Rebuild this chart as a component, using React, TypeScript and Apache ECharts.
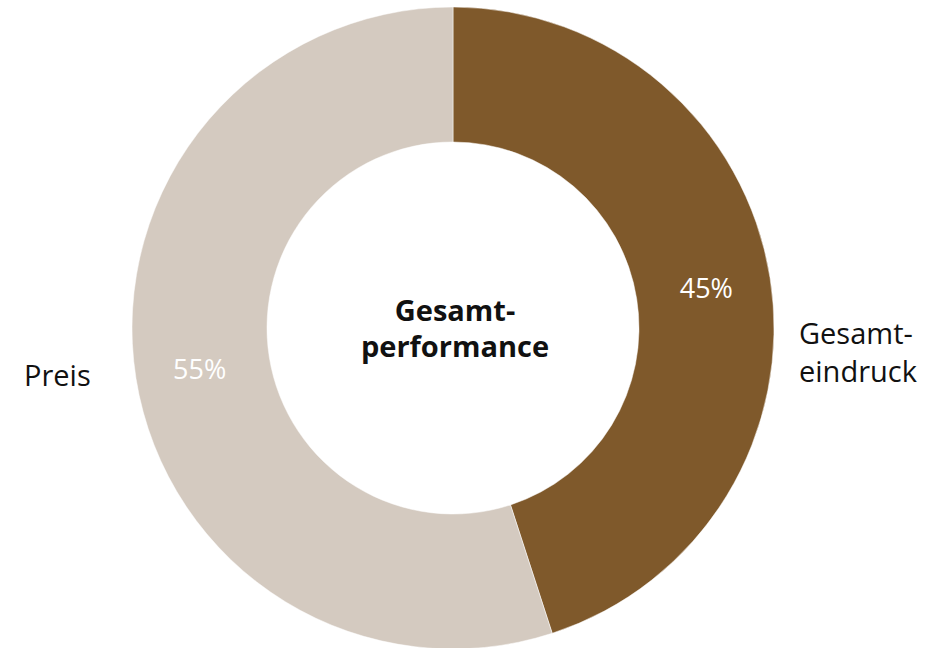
import React, { useEffect, useRef } from "react";
import * as echarts from "echarts";

const categories = ["Gesamt-\neindruck", "Preis"];
const values = [45, 55];
const colors = ["#7F592B", "#D4CAC0"];
const centerTitle = "Gesamt-\nperformance";

export default function App() {
  const ref = useRef<HTMLDivElement>(null);
  useEffect(() => {
    document.body.style.margin = "0";
    const chart = echarts.init(ref.current!, null, { renderer: "svg" });
    const font = "'Open Sans', Lato, sans-serif";
    chart.setOption({
      animation: false,
      backgroundColor: "#ffffff",
      series: [
        {
          type: "pie",
          center: [453, 328],
          radius: [186, 321],
          startAngle: 90,
          clockwise: true,
          silent: true,
          itemStyle: { borderColor: "#ffffff", borderWidth: 0.5 },
          label: {
            show: true,
            position: "inside",
            formatter: (p: any) => `${p.value}%`,
            color: "#ffffff",
            fontSize: 27,
            fontFamily: font,
          },
          labelLine: { show: false },
          data: values.map((v, i) => ({
            name: categories[i],
            value: v,
            itemStyle: { color: colors[i] },
          })),
        },
      ],
      graphic: [
        {
          type: "text",
          left: 799,
          top: 313,
          style: {
            text: categories[0],
            font: `29px ${font}`,
            fill: "#111111",
            textAlign: "left",
            lineHeight: 38,
          },
        },
        {
          type: "text",
          left: 24,
          top: 355,
          style: {
            text: categories[1],
            font: `29px ${font}`,
            fill: "#111111",
            lineHeight: 38,
          },
        },
        {
          type: "text",
          x: 455,
          y: 327,
          style: {
            text: centerTitle,
            font: `bold 29px ${font}`,
            fill: "#111111",
            textAlign: "center",
            textVerticalAlign: "middle",
            lineHeight: 36,
          },
        },
      ],
    });
    return () => chart.dispose();
  }, []);
  return <div ref={ref} style={{ width: 941, height: 648 }} />;
}
